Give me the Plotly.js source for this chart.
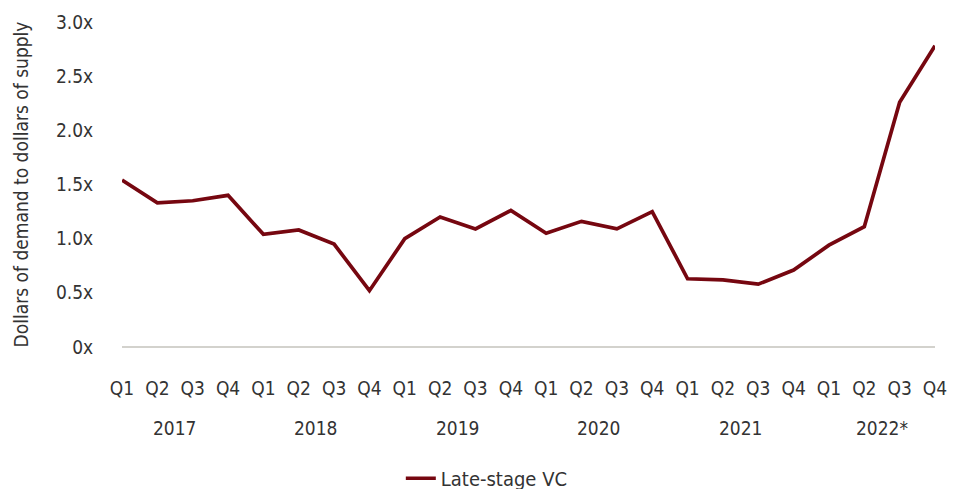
<!DOCTYPE html>
<html>
<head>
<meta charset="utf-8">
<script src="https://cdn.plot.ly/plotly-3.0.1.min.js"></script>
<style>
html,body{margin:0;padding:0;background:#fff;}
#chart{width:964px;height:489px;}
</style>
</head>
<body>
<div id="chart"></div>
<script>
const years = ["2017", "2018", "2019", "2020", "2021", "2022*"];
const quarters = ["Q1", "Q2", "Q3", "Q4"];
const lateStageVC = [
  1.54, 1.33, 1.35, 1.40,
  1.04, 1.08, 0.95, 0.52,
  1.00, 1.20, 1.09, 1.26,
  1.05, 1.16, 1.09, 1.25,
  0.63, 0.62, 0.58, 0.71,
  0.94, 1.11, 2.26, 2.78
];
const yTickVals = [0, 0.5, 1.0, 1.5, 2.0, 2.5, 3.0];
const yTickText = ["0x", "0.5x", "1.0x", "1.5x", "2.0x", "2.5x", "3.0x"];

const FONT = "'DejaVu Sans Condensed', 'Liberation Sans Narrow', sans-serif";
const TXT = "#333333";

const qLabels = [];
years.forEach(() => quarters.forEach(q => qLabels.push(q)));
const xIdx = lateStageVC.map((_, i) => i);

const plotTop = 22, plotBottom = 347.5;
const annotations = years.map((y, i) => ({
  text: y,
  x: i * quarters.length + (quarters.length - 1) / 2,
  xref: 'x',
  y: (plotBottom - 429) / (plotBottom - plotTop),
  yref: 'paper',
  showarrow: false,
  font: {family: FONT, size: 19, color: TXT},
  xanchor: 'center',
  yanchor: 'middle'
}));

const trace = {
  x: xIdx,
  y: lateStageVC,
  type: 'scatter',
  mode: 'lines',
  name: 'Late-stage VC',
  line: {color: '#760710', width: 3.7},
  hoverinfo: 'y'
};

const layout = {
  width: 964,
  height: 489,
  margin: {l: 122, r: 29, t: 22, b: 141.5},
  paper_bgcolor: '#ffffff',
  plot_bgcolor: '#ffffff',
  font: {family: FONT, size: 19, color: TXT},
  showlegend: true,
  legend: {
    orientation: 'h',
    xref: 'container',
    yref: 'container',
    x: 0.505,
    xanchor: 'center',
    y: 0.022,
    yanchor: 'middle',
    font: {family: FONT, size: 20, color: TXT}
  },
  xaxis: {
    type: 'linear',
    range: [0, lateStageVC.length - 1],
    tickvals: xIdx,
    ticktext: qLabels,
    tickfont: {family: FONT, size: 19, color: TXT},
    showgrid: false,
    zeroline: false,
    showline: false,
    ticks: 'outside',
    ticklen: 24,
    tickcolor: 'rgba(0,0,0,0)',
    automargin: false
  },
  yaxis: {
    range: [0, 3.0],
    tickvals: yTickVals,
    ticktext: yTickText,
    tickfont: {family: FONT, size: 19, color: TXT},
    showgrid: false,
    zeroline: true,
    zerolinecolor: '#d3d2cd',
    zerolinewidth: 1.5,
    showline: false,
    ticks: 'outside',
    ticklen: 24,
    tickcolor: 'rgba(0,0,0,0)',
    automargin: false,
    title: {text: 'Dollars of demand to dollars of supply', font: {family: FONT, size: 19, color: TXT}, standoff: 22}
  },
  annotations: annotations
};

Plotly.newPlot('chart', [trace], layout, {displayModeBar: false, staticPlot: true});
</script>
</body>
</html>
